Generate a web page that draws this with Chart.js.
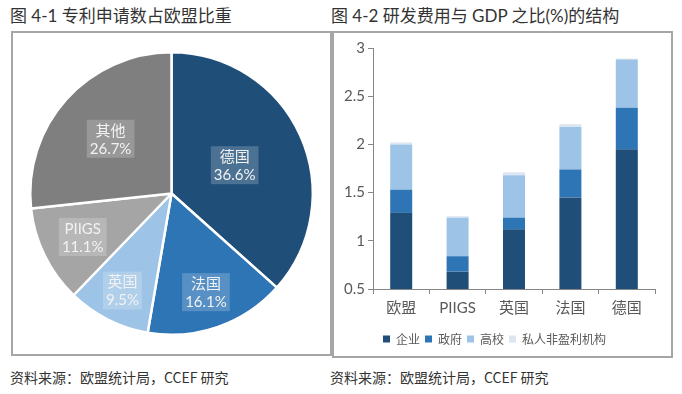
<!DOCTYPE html>
<html>
<head>
<meta charset="utf-8">
<script src="https://cdn.jsdelivr.net/npm/chart.js@4.4.1/dist/chart.umd.min.js"></script>
<style>
body{margin:0;background:#fff;width:682px;height:394px;position:relative;overflow:hidden;font-family:"Noto Sans CJK SC",sans-serif;}
.title{position:absolute;top:2px;font-size:17px;color:#333;white-space:nowrap;font-family:Lato,"Noto Sans CJK SC",sans-serif;}
.box{position:absolute;border:2px solid #a6a6a6;box-sizing:border-box;}
.box canvas{display:block;}
.src{position:absolute;top:367px;font-size:14px;color:#333;white-space:nowrap;}
</style>
</head>
<body>
<div class="title" style="left:10px">图 4-1 专利申请数占欧盟比重</div>
<div class="title" style="left:331px">图 4-2 研发费用与 GDP 之比(%)的结构</div>
<div class="box" style="left:11px;top:31px;width:321px;height:325px"><canvas id="pie" width="317" height="321"></canvas></div>
<div class="box" style="left:332px;top:31px;width:341px;height:327px"><canvas id="bar" width="337" height="323"></canvas></div>
<div class="src" style="left:10px">资料来源：欧盟统计局，CCEF 研究</div>
<div class="src" style="left:330px">资料来源：欧盟统计局，CCEF 研究</div>
<script>
// 图 4-1 data
const pieLabels = ["德国", "法国", "英国", "PIIGS", "其他"];
const pieShare = [36.6, 16.1, 9.5, 11.1, 26.7];
const pieColors = ["#1f4e79", "#2e75b6", "#9dc3e6", "#a5a5a5", "#7f7f7f"];
const labelDist = [0.49, 0.74, 0.77, 0.70, 0.58]; // where the label sits along the radius

// 图 4-2 data
const countries = ["欧盟", "PIIGS", "英国", "法国", "德国"];
const seriesNames = ["企业", "政府", "高校", "私人非盈利机构"];
const business = [1.29, 0.68, 1.12, 1.45, 1.95];
const government = [0.24, 0.16, 0.12, 0.29, 0.43];
const university = [0.47, 0.40, 0.44, 0.44, 0.50];
const privateNp = [0.02, 0.015, 0.03, 0.03, 0.01];
const yTicks = [0.5, 1, 1.5, 2, 2.5, 3];
const barColors = ["#1f4e79", "#2e75b6", "#9dc3e6", "#dde5f0"];

const pieLabelPlugin = {
  id: "pieLabels",
  afterDatasetsDraw(chart) {
    const ctx = chart.ctx;
    const arcs = chart.getDatasetMeta(0).data;
    arcs.forEach((arc, i) => {
      const mid = (arc.startAngle + arc.endAngle) / 2;
      const r = arc.outerRadius * labelDist[i];
      const x = arc.x + Math.cos(mid) * r;
      const y = arc.y + Math.sin(mid) * r;
      const l1 = pieLabels[i];
      const l2 = pieShare[i].toFixed(1) + "%";
      ctx.save();
      ctx.font = '15px Lato, "Noto Sans CJK SC"';
      const w = Math.max(ctx.measureText(l1).width, ctx.measureText(l2).width) + 6;
      ctx.fillStyle = "rgba(255,255,255,0.2)";
      ctx.fillRect(x - w / 2, y - 19, w, 38);
      ctx.fillStyle = "#f2f2f2";
      ctx.textAlign = "center";
      ctx.textBaseline = "middle";
      ctx.fillText(l1, x, y - 8);
      ctx.fillText(l2, x, y + 10);
      ctx.restore();
    });
  }
};

new Chart(document.getElementById("pie"), {
  type: "pie",
  data: {
    labels: pieLabels,
    datasets: [{ data: pieShare, backgroundColor: pieColors, borderColor: "#fff", borderWidth: 2.5 }]
  },
  options: {
    responsive: false,
    animation: false,
    layout: { padding: 16 },
    plugins: { legend: { display: false }, tooltip: { enabled: false } }
  },
  plugins: [pieLabelPlugin]
});

const stackSeries = [business, government, university, privateNp];
new Chart(document.getElementById("bar"), {
  type: "bar",
  data: {
    labels: countries,
    datasets: stackSeries.map((d, i) => ({
      label: seriesNames[i],
      data: d,
      backgroundColor: barColors[i],
      barPercentage: 0.39,
      categoryPercentage: 1
    }))
  },
  options: {
    responsive: false,
    animation: false,
    layout: { padding: { top: 15, right: 16, bottom: 1, left: 0 } },
    scales: {
      x: {
        stacked: true,
        afterFit: s => { s.height = 39; },
        grid: { drawOnChartArea: false, tickLength: 5, color: "#868686" },
        border: { color: "#868686" },
        ticks: { color: "#595959", font: { size: 15, family: 'Lato, "Noto Sans CJK SC"' }, padding: 5 }
      },
      y: {
        stacked: true,
        min: 0.5,
        max: 3,
        afterFit: s => { s.width = 39; },
        afterBuildTicks: s => { s.ticks = yTicks.map(v => ({ value: v })); },
        grid: { drawOnChartArea: false, tickLength: 5, color: "#868686" },
        border: { color: "#868686" },
        ticks: { color: "#595959", font: { size: 15, family: "Lato" }, padding: 3, callback: v => String(v) }
      }
    },
    plugins: {
      tooltip: { enabled: false },
      legend: {
        position: "bottom",
        labels: { boxWidth: 7, boxHeight: 7, padding: 5, color: "#595959", font: { size: 12, family: '"Noto Sans CJK SC"' } }
      }
    }
  }
});
</script>
</body>
</html>
